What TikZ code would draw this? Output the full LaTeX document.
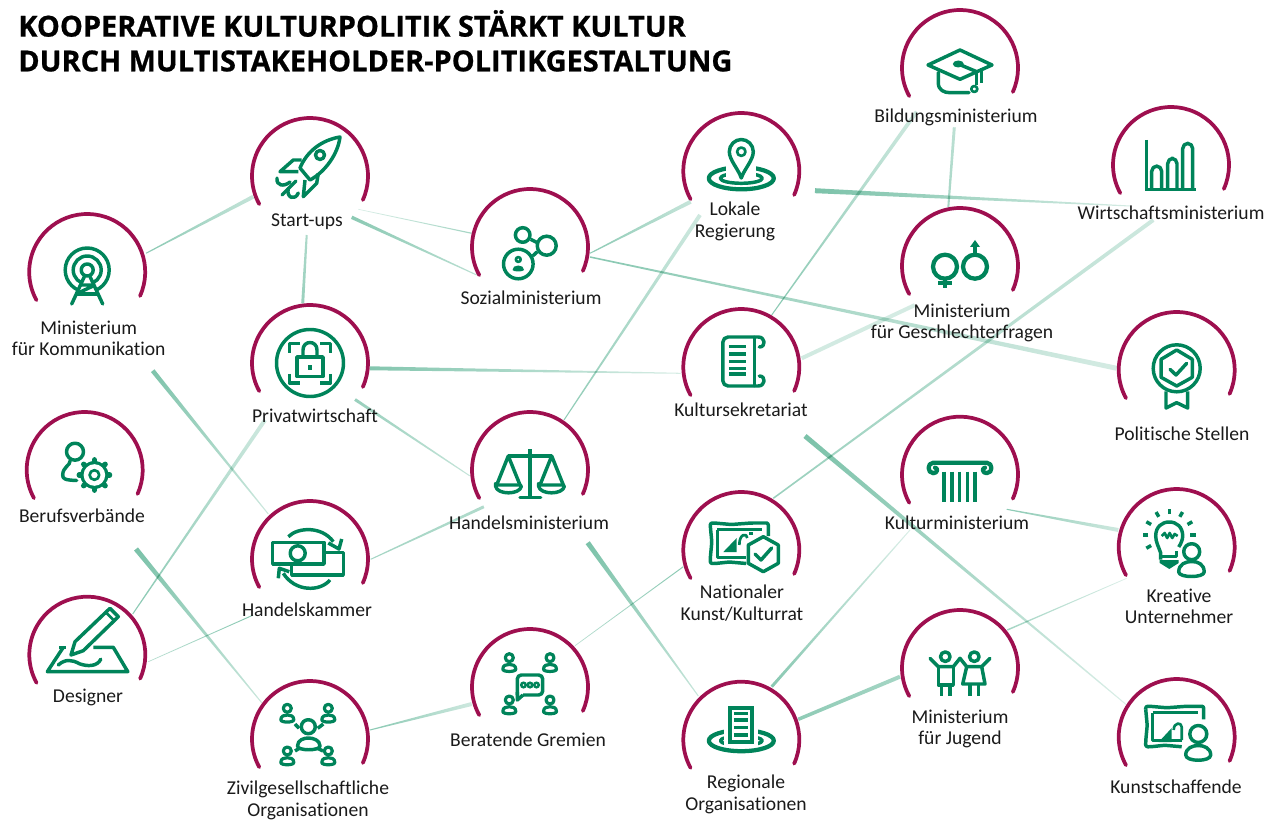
\documentclass[tikz,border=0pt]{standalone}
\usepackage{fontspec}
\usetikzlibrary{calc,shapes.geometric}
\setmainfont[Ligatures=CommonOff]{Carlito}
\newfontfamily\titlef[FakeBold=0.7]{Open Sans Bold}
\definecolor{arcred}{HTML}{9E0F4F}
\definecolor{ig}{HTML}{00845A}
\definecolor{lk}{HTML}{5BB394}
\definecolor{ink}{HTML}{1A1A1A}
\newcommand\labelfont{\fontsize{14.7}{16}\selectfont\color{ink}}
\tikzset{
  x=0.75pt,y=-0.75pt,
  hub/.style={circle,minimum size=87pt,inner sep=0pt},
  arcl/.style={draw=arcred,line width=2.8pt,line cap=round},
  lbl/.style={align=center,font=\labelfont,inner sep=0pt,yshift=-0.2pt},
  ttl/.style={anchor=west,inner sep=0pt,font=\titlef\fontsize{21.7}{22}\selectfont},
  ic/.style={draw=ig,line width=2.6pt,line join=round},
  icb/.style={draw=ig,line width=3.2pt,line join=round},
  ict/.style={draw=ig,line width=2pt,line join=round},
  icp/.style={draw=ig,line width=2.4pt,line join=round},
}
\newcommand\hubnode[6]{%
  \node[hub] (#1) at (#2,#3) {};
  \draw[arcl] (#1) ++(24.4:58) arc[start angle=24.4,end angle=-209,radius=58];
  \node[lbl] (#1-t) at (#5,#6) {#4};
}
\newcommand\taper[6]{%
  \path let \p1=($(#2)-(#1)$), \n1={veclen(\x1,\y1)}, \n2={atan2(\y1,\x1)} in
    \pgfextra{\xdef\tlen{\n1}\xdef\tang{\n2}};
  \pgfmathsetlengthmacro\hwa{#3*0.375pt}
  \pgfmathsetlengthmacro\hwb{#4*0.375pt}
  \begin{scope}[transform canvas={shift={(#1)},rotate=\tang}]
  \shade[left color=lk!#5!white,right color=lk!#6!white,blend mode=multiply]
    (0pt,-\hwa) -- (\tlen,-\hwb) -- (\tlen,\hwb) -- (0pt,\hwa) -- cycle;
  \end{scope}
}
\newcommand\perso[3]{%
  \begin{scope}[shift={(#1,#2)},scale=#3]
  \draw[icp] (0,-5) circle[radius=4];
  \draw[icp,fill=white] (-6.5,6.5) .. controls (-6.5,2.5) and (-3,1.7) .. (0,1.7) .. controls (3,1.7) and (6.5,2.5) .. (6.5,6.5) .. controls (6.5,9.5) and (-6.5,9.5) .. (-6.5,6.5) -- cycle;
  \end{scope}
}
\newcommand\wobbleframe{%
  \draw[ic,rounded corners=1.5] (-31,-24) -- (-31,-27) -- (-27,-27) -- (-10,-25.5) -- (10,-27) -- (24,-27) -- (27,-27) -- (27,-22) -- (27,-14);
  \draw[ic,rounded corners=1.5] (-31,-24) -- (-29.5,-8) -- (-31,8) -- (-31,13.5) -- (-26,13.5) -- (-12,12) -- (5,13.5);
  \draw[ict] (-24,-20.5) -- (21,-20.5);
  \draw[ict] (-24,-20.5) -- (-24,7.5) -- (5,7.5);
}
\begin{document}
\begin{tikzpicture}
\useasboundingbox (0,0) rectangle (1274,823);

% ---------- connector ports ----------
\coordinate (komm-start) at (146,253.3);
\coordinate (start-komm) at (253.3,196.7);
\coordinate (start-soz1) at (358.3,209.3);
\coordinate (soz-start1) at (471.7,233.3);
\coordinate (start-soz2) at (351.7,217.3);
\coordinate (soz-start2) at (476.7,275);
\coordinate (start-priv) at (306.7,235);
\coordinate (priv-start) at (302.7,303.3);
\coordinate (komm-hk) at (152.7,370.7);
\coordinate (hk-komm) at (268.3,514);
\coordinate (priv-sek) at (370,368.3);
\coordinate (sek-priv) at (680.7,373.3);
\coordinate (priv-hm) at (355,399.5);
\coordinate (hm-priv) at (470,476);
\coordinate (soz-lok) at (590,253.3);
\coordinate (lok-soz) at (690.7,201.7);
\coordinate (soz-pol) at (590,257);
\coordinate (pol-soz) at (1116.7,368.3);
\coordinate (lok-hm) at (700,215);
\coordinate (hm-lok) at (564,420);
\coordinate (lok-wir) at (815,190.7);
\coordinate (wir-lok) at (1130,206);
\coordinate (bil-sek) at (916.7,111.7);
\coordinate (sek-bil) at (771.7,315);
\coordinate (bil-ges) at (954.3,127.3);
\coordinate (ges-bil) at (948.3,207.3);
\coordinate (sek-ges) at (801.7,358.3);
\coordinate (ges-sek) at (915,305);
\coordinate (wir-nat) at (1153.3,220);
\coordinate (nat-wir) at (773.3,498.3);
\coordinate (sek-kun) at (805,436);
\coordinate (kun-sek) at (1126.7,705);
\coordinate (hk-hm) at (370.7,559.3);
\coordinate (hm-hk) at (484,506.7);
\coordinate (des-priv) at (132.7,614);
\coordinate (priv-des) at (265,420);
\coordinate (des-hk) at (148.3,661.7);
\coordinate (hk-des) at (253.3,615);
\coordinate (ber-ziv) at (136,549);
\coordinate (ziv-ber) at (261.7,702.7);
\coordinate (ziv-bg) at (370,730);
\coordinate (bg-ziv) at (471.7,704);
\coordinate (bg-nat) at (575,645.7);
\coordinate (nat-bg) at (683.3,566.7);
\coordinate (hm-reg) at (587.7,542.7);
\coordinate (reg-hm) at (698.3,696);
\coordinate (km-kre) at (1006.7,509.3);
\coordinate (kre-km) at (1118.3,530);
\coordinate (km-reg) at (910,530);
\coordinate (reg-km) at (771.7,686.7);
\coordinate (reg-jug) at (798.3,719.3);
\coordinate (jug-reg) at (900,676.7);
\coordinate (jug-kre) at (1007.3,630);
\coordinate (kre-jug) at (1126.7,578.3);

% ---------- connectors ----------
\taper{komm-start}{start-komm}{1}{4}{70}{36}
\taper{start-soz1}{soz-start1}{0.7}{1.2}{22}{55}
\taper{start-soz2}{soz-start2}{3.5}{1}{70}{42}
\taper{start-priv}{priv-start}{2}{3}{50}{62}
\taper{komm-hk}{hk-komm}{4.5}{1}{78}{30}
\taper{priv-sek}{sek-priv}{4}{1}{75}{25}
\taper{priv-hm}{hm-priv}{3}{1}{62}{35}
\taper{soz-lok}{lok-soz}{1}{4}{70}{35}
\taper{soz-pol}{pol-soz}{1.5}{5}{72}{26}
\taper{lok-hm}{hm-lok}{4}{1}{30}{68}
\taper{lok-wir}{wir-lok}{5}{1}{80}{26}
\taper{bil-sek}{sek-bil}{4}{1}{30}{72}
\taper{bil-ges}{ges-bil}{3}{2}{40}{55}
\taper{sek-ges}{ges-sek}{4}{4}{28}{26}
\taper{wir-nat}{nat-wir}{4}{1.5}{30}{62}
\taper{sek-kun}{kun-sek}{5}{1}{80}{22}
\taper{hk-hm}{hm-hk}{1}{3}{55}{48}
\taper{des-priv}{priv-des}{1}{4}{72}{30}
\taper{des-hk}{hk-des}{0.7}{1}{42}{72}
\taper{ber-ziv}{ziv-ber}{5}{1}{80}{32}
\taper{ziv-bg}{bg-ziv}{1}{4}{72}{30}
\taper{bg-nat}{nat-bg}{0.7}{1}{42}{72}
\taper{hm-reg}{reg-hm}{5}{1}{80}{34}
\taper{km-kre}{kre-km}{1}{4}{70}{30}
\taper{km-reg}{reg-km}{1}{3}{22}{72}
\taper{reg-jug}{jug-reg}{3.5}{4}{68}{55}
\taper{jug-kre}{kre-jug}{1.5}{0.7}{55}{22}

% ---------- hubs ----------
\hubnode{komm}{87.2}{272}{Ministerium\\für Kommunikation}{88.7}{338}
\hubnode{start}{310}{176}{Start-ups}{307}{221}
\hubnode{priv}{310}{363}{Privatwirtschaft}{315}{416}
\hubnode{soz}{530}{247}{Sozialministerium}{531}{298}
\hubnode{lok}{741.3}{171}{Lokale\\Regierung}{735}{221}
\hubnode{sek}{741.3}{367}{Kultursekretariat}{741}{410}
\hubnode{bil}{960}{68}{Bildungsministerium}{956}{117}
\hubnode{wir}{1171}{165}{Wirtschaftsministerium}{1171}{213}
\hubnode{ges}{960}{266}{Ministerium\\für Geschlechterfragen}{962}{323}
\hubnode{ber}{84.7}{470}{Berufsverbände}{82}{515}
\hubnode{hk}{310}{559}{Handelskammer}{307}{609}
\hubnode{des}{87.3}{654.7}{Designer}{88}{697}
\hubnode{hm}{530}{470}{Handelsministerium}{529}{522}
\hubnode{nat}{741.3}{550}{Nationaler\\Kunst/Kulturrat}{742}{603}
\hubnode{reg}{741.3}{739.7}{Regionale\\Organisationen}{746}{794}
\hubnode{bg}{530}{687}{Beratende Gremien}{528}{739}
\hubnode{ziv}{310}{739}{Zivilgesellschaftliche\\Organisationen}{308}{800}
\hubnode{pol}{1176.7}{370}{Politische Stellen}{1182}{434}
\hubnode{km}{960}{474.7}{Kulturministerium}{957}{522}
\hubnode{kre}{1176.7}{547}{Kreative\\Unternehmer}{1179}{606}
\hubnode{jug}{960}{668}{Ministerium\\für Jugend}{960}{729}
\hubnode{kun}{1176.7}{737}{Kunstschaffende}{1176}{786}

% ---------- title ----------
\node[ttl] (title1) at (18,23.5) {KOOPERATIVE KULTURPOLITIK STÄRKT KULTUR};
\node[ttl] (title2) at (18,61) {DURCH MULTISTAKEHOLDER-POLITIKGESTALTUNG};

% ---------- icons ----------
% rocket
\begin{scope}[shift={(start)}]
 \draw[ic] (-10,-8) .. controls (-3,-25) and (12,-36) .. (30,-39) .. controls (28,-22) and (15,-4) .. (0,4) -- cycle;
 \draw[ic] (10,-21) circle[radius=4.5];
 \draw[ic] (-8.3,-16) -- (-16.7,-16) -- (-30,-4.3) -- (-11.7,-4.3);
 \draw[ic] (8.3,-2.7) -- (6.7,7.3) -- (-6.7,20.7) -- (-5,4);
 \draw[ic,line cap=round] (-33,2) .. controls (-34,10) and (-26,11) .. (-20,6);
 \draw[ic,line cap=round] (-28,19) -- (-14,5);
 \draw[ic,line cap=round] (-21.7,12.3) .. controls (-24,22) and (-15,25) .. (-11.7,17);
\end{scope}
% antenna
\begin{scope}[shift={(komm)}]
 \draw[ic] (0,-2) circle[radius=22];
 \draw[ic] (0,-2) circle[radius=14];
 \fill[white] (0,0) -- (-17,32) -- (17,32) -- cycle;
 \draw[ic] (0,-2) circle[radius=6];
 \draw[ic,line cap=round] (-15.5,32) -- (-3,5) (15.5,32) -- (3,5);
 \draw[ic] (-9,21) -- (8,13) (-6,13) -- (8,13);
 \draw[ic] (-11,22) -- (11,22);
\end{scope}
% lock
\begin{scope}[shift={(priv)}]
 \draw[ic] (0,0) circle[radius=33.5];
 \draw[ic] (-13,-6) rectangle (13,13.5);
 \draw[ic] (-7,-6) -- (-7,-13) .. controls (-7,-23) and (7,-23) .. (7,-13) -- (7,-6);
 \fill[ig] (-2,2.5) rectangle (2,7.5);
 \draw[ic] (-10,-19.5) -- (-20.5,-19.5) -- (-20.5,-10);
 \draw[ic] (10,-19.5) -- (20.5,-19.5) -- (20.5,-10);
 \draw[ic] (-20.5,11) -- (-20.5,20) -- (-10,20);
 \draw[ic] (20.5,11) -- (20.5,20) -- (10,20);
\end{scope}
% social
\begin{scope}[shift={(soz)}]
 \draw[ic] (-7.3,-12) circle[radius=7.3];
 \draw[ic] (16.7,-1.3) circle[radius=9.5];
 \draw[ic] (-11.7,17) circle[radius=14.8];
 \draw[ict] (-11.7,12.5) circle[radius=2.4];
 \fill[ig] (-17.5,23) .. controls (-18,17) and (-5.5,17) .. (-6,23) .. controls (-7,25) and (-16.5,25) .. (-17.5,23) -- cycle;
 \draw[ic] (0.7,-7.7) -- (6.7,-4.7);
 \draw[ic] (2.7,9) -- (7.3,4.7);
\end{scope}
% pin with rings
\begin{scope}[shift={(lok)}]
 \draw[icb] (0,7.3) ellipse[x radius=32.5,y radius=11];
 \draw[ic] (0,7.3) ellipse[x radius=21,y radius=5];
 \fill[white] (-15,7) rectangle (15,-6);
 \draw[ic,fill=white] (0,7) .. controls (-3,-2) and (-12,-11) .. (-12,-19.3) .. controls (-12,-26) and (-6.5,-31.5) .. (0,-31.5) .. controls (6.5,-31.5) and (12,-26) .. (12,-19.3) .. controls (12,-11) and (3,-2) .. (0,7) -- cycle;
 \draw[ict] (0,-19.3) circle[radius=4.2];
\end{scope}
% scroll
\begin{scope}[shift={(sek)}]
 \draw[ic,rounded corners=4] (13,-30) -- (-18.5,-30) -- (-18.5,19) -- (13,19);
 \draw[ic] (13,-30) -- (13,19);
 \draw[ic,line cap=round] (13,-30) -- (17,-30) .. controls (24,-30) and (25,-20) .. (18,-20);
 \draw[ic,line cap=round] (13,19) -- (17,19) .. controls (24,19) and (25,9) .. (18,9);
 \foreach \yy in {-20.3,-13,-5.3,1.3,7}{\draw[ig,line width=2.6pt] (-12.5,\yy) -- (4.7,\yy);}
\end{scope}
% graduation cap
\begin{scope}[shift={(bil)}]
 \draw[ic] (0,-18) -- (32,-3) -- (0,11.3) -- (-32,-3) -- cycle;
 \draw[ic,line cap=round] (-21.7,4.5) -- (-21.7,15) .. controls (-21.7,22) and (-16,24.7) .. (-10,24.7) -- (9,24.7);
 \draw[ic] (16.7,3.7) -- (-1.7,-4);
 \fill[ig] (-1.7,-4) ellipse[x radius=5.5,y radius=3.5];
 \draw[ic] (16.7,3.7) -- (16.7,17);
 \draw[ict] (14.3,21) circle[radius=3];
 \draw[ic] (21.7,0) -- (21.7,15.5);
\end{scope}
% chart
\begin{scope}[shift={(wir)}]
 \draw[ic] (-24.3,-25) -- (-24.3,24.3);
 \draw[ic] (-26,24.3) -- (24.7,24.3);
 \draw[ic,rounded corners=4] (-19.3,24.3) -- (-19.3,1) -- (-9.3,1) -- (-9.3,24.3);
 \draw[ic,rounded corners=4] (-3.3,24.3) -- (-3.3,-6.7) -- (6,-6.7) -- (6,24.3);
 \draw[ic,rounded corners=4] (11.7,24.3) -- (11.7,-21.7) -- (21.7,-21.7) -- (21.7,24.3);
\end{scope}
% gender
\begin{scope}[shift={(ges)}]
 \draw[icb] (-15,0.7) circle[radius=12];
 \draw[icb] (15,0.7) circle[radius=12];
 \draw[icb] (-15,13) -- (-15,22);
 \draw[icb] (-21.7,17.3) -- (-8.3,17.3);
 \draw[icb] (15,-11) -- (15,-20);
 \fill[ig] (10,-19) -- (20,-19) -- (15,-26) -- cycle;
\end{scope}
% person + gear
\begin{scope}[shift={(ber)}]
 \draw[ic] (-9.7,-18.3) circle[radius=8.5];
 \draw[ic,line cap=round] (-14.7,-9) .. controls (-14,-5) and (-22,-3) .. (-22,5) .. controls (-22,9) and (-20,10) .. (-8,10.5);
 \begin{scope}[shift={(9.7,5)}]
 \foreach \a in {0,45,...,315}{\draw[ig,line width=4pt,line cap=round] (\a:12) -- (\a:15.2);}
 \fill[ig] (0,0) circle[radius=14];
 \fill[white] (0,0) circle[radius=10.8];
 \draw[ict] (0,0) circle[radius=4.8];
 \end{scope}
\end{scope}
% money exchange
\begin{scope}[shift={(hk)}]
 \draw[ic] (-37.3,-16.7) rectangle (14,5);
 \draw[ic] (-12.3,-5.7) circle[radius=7.5];
 \draw[ic] (15,-6.3) -- (33.3,-6.3) -- (33.3,16) -- (-18.3,16) -- (-18.3,6);
 \draw[ic] (-21.7,-22.3) .. controls (-12,-32) and (12,-33) .. (23.3,-17.3);
 \draw[ic] (18.3,-16) -- (29,-10) -- (31.7,-20);
 \draw[ic] (20,21) .. controls (10,33) and (-15,33) .. (-26.7,14.3);
 \draw[ic] (-31.7,19.3) -- (-30.7,9.3) -- (-20.7,12.7);
\end{scope}
% designer
\begin{scope}[shift={(des)}]
 \draw[ic] (-24,-7.4) -- (-40,17) -- (40.5,17) -- (26,-7.4) -- (6,-7.4);
 \draw[ic] (-28,-7.4) -- (-21,-7.4);
 \draw[ic,fill=white] (-12.3,-13) -- (22.7,-46.4) -- (31,-38) -- (-4,-4) -- (-16.3,0.3) -- cycle;
 \draw[ict] (18.5,-42.5) -- (27,-34);
 \draw[ic,line cap=round] (-29,10.3) .. controls (-22,4) and (-15,5) .. (-8,9) .. controls (0,12) and (10,12) .. (13.5,4.5);
\end{scope}
% scales
\begin{scope}[shift={(hm)}]
 \draw[ic] (0,-21) -- (0,27.5);
 \draw[ic,line cap=round] (-10,27.5) -- (10.7,27.5);
 \draw[ic] (-21.7,-14) -- (21.7,-14);
 \draw[ic] (-33.3,15) -- (-21.7,-14) -- (-10,15);
 \draw[ic] (10,15) -- (21.7,-14) -- (33.3,15);
 \draw[ic,rounded corners=1] (-34.5,15) -- (-8.5,15) .. controls (-10,25) and (-33,25) .. (-34.5,15) -- cycle;
 \draw[ic,rounded corners=1] (8.5,15) -- (34.5,15) .. controls (33,25) and (10,25) .. (8.5,15) -- cycle;
\end{scope}
% frame + shield
\begin{scope}[shift={(nat)}]
 \wobbleframe
 \fill[ig] (-18,2) -- (-4.6,-12) -- (-4.6,2) -- cycle;
 \draw[ict] (-2,-5) .. controls (-2,-17) and (6,-17) .. (6,-12);
 \fill[ig] (8,-18) rectangle (12,-15);
 \draw[ic,fill=white] (22,-13.3) -- (37,-5) -- (37,13.3) -- (22,21.7) -- (7,13.3) -- (7,-5) -- cycle;
 \draw[ic,line cap=round] (13.7,4) -- (19.7,10) -- (30.4,-2);
\end{scope}
% regional
\begin{scope}[shift={(reg)}]
 \draw[icb] (0,1) ellipse[x radius=32.5,y radius=10.5];
 \draw[ic] (0,1) ellipse[x radius=21,y radius=4.5];
 \fill[white] (-17,-12) rectangle (17,7);
 \fill[ig] (-13,-33.7) rectangle (12.7,4.3);
 \fill[white] (-9,-29.7) rectangle (8.7,0.3);
 \foreach \yy in {-26.3,-19.7,-12.3,-4.7}{\draw[ig,line width=2.6pt] (-7.5,\yy) -- (7,\yy);}
\end{scope}
% advisory
\begin{scope}[shift={(bg)}]
 \perso{-20.7}{-24.3}{1}
 \perso{20}{-24.3}{1}
 \perso{-20.7}{18}{1}
 \perso{20}{18}{1}
 \draw[ic,fill=white,rounded corners=3] (-12.7,8) -- (-12.7,-12) -- (12.7,-12) -- (12.7,8) -- (-7,8);
 \draw[ic] (-7,8) -- (-12.7,13) -- (-12.7,5);
 \foreach \xx in {-6.5,0,6.5}{\fill[ig] (\xx,-2) circle[radius=3.6];}
 \foreach \xx in {-6.5,0,6.5}{\fill[white] (\xx,-2) circle[radius=0.9];}
\end{scope}
% civil society
\begin{scope}[shift={(ziv)}]
 \draw[ic] (-1.7,-12.3) circle[radius=7];
 \draw[ic,fill=white] (-12.5,7) .. controls (-12.5,1) and (-6,-1) .. (-1.7,-1) .. controls (3,-1) and (10,1) .. (10,7) .. controls (10,12) and (-12.5,12) .. (-12.5,7) -- cycle;
 \perso{-22.7}{-25.7}{1}
 \perso{18.3}{-25.7}{1}
 \perso{-22.7}{17}{1}
 \perso{18.3}{17}{1}
 \draw[ic] (-15,-15) -- (-11,-10.7);
 \draw[ic] (13.3,-15) -- (7.7,-10.7);
 \draw[ic] (-15,12) -- (-11,9.5);
 \draw[ic] (13,12) -- (8,9.5);
\end{scope}
% rosette
\begin{scope}[shift={(pol)}]
 \draw[ic] (0,-1.7) circle[radius=23.5];
 \draw[ic] (0,-20) -- (15.6,-10.7) -- (15.6,7.3) -- (0,16) -- (-15.6,7.3) -- (-15.6,-10.7) -- cycle;
 \draw[ic,line cap=round] (-6.7,-0.7) -- (-0.7,5) -- (10,-6.7);
 \draw[ic] (-10.7,21.5) -- (-10.7,38) -- (0,32.7) -- (11,38) -- (11,21.5);
\end{scope}
% column
\begin{scope}[shift={(km)}]
 \draw[icb,line cap=round] (-26.7,-1.5) .. controls (-33,-1.5) and (-33,-12) .. (-26.7,-12) -- (26.7,-12) .. controls (33,-12) and (33,-1.5) .. (26.7,-1.5) .. controls (22,-1.5) and (22,-7) .. (25,-7);
 \draw[icb,line cap=round] (-26.7,-1.5) .. controls (-22,-1.5) and (-22,-7) .. (-25,-7);
 \foreach \xx in {-16,-8.3,-0.7,7.3,15}{\draw[ig,line width=2.7pt] (\xx,-3) -- (\xx,27.3);}
\end{scope}
% bulb + person
\begin{scope}[shift={(kre)}]
 \draw[ic] (-16,12.5) -- (-16,6) .. controls (-18,0) and (-21,-5) .. (-21,-11) .. controls (-21,-20) and (-15,-25) .. (-7.4,-25) .. controls (0,-25) and (6,-20) .. (6,-11) .. controls (6,-7) and (4,-3) .. (2,0);
 \draw[ic] (-15,9.7) -- (0,9.7) -- (0,4);
 \fill[ig] (-17,13) -- (2,13) -- (2,16) -- (-7.4,22) -- (-17,16) -- cycle;
 \draw[ict] (-15,-11) -- (-12,-14) -- (-9.5,-9) -- (-7,-14) -- (-4.5,-9) -- (-2,-13) -- (1,-11);
 \foreach \a in {0,-30,-60,-90,-120,-150,180,150}{\draw[ic] ($(-7.4,-12)+(\a:21)$) -- ($(-7.4,-12)+(\a:26.5)$);}
 \draw[ic,fill=white] (15,4.7) circle[radius=8];
 \draw[ic,fill=white] (2,25) .. controls (2,17) and (9,14.5) .. (15,14.5) .. controls (21,14.5) and (27.5,17) .. (27.5,25) .. controls (27.5,31) and (2,31) .. (2,25) -- cycle;
\end{scope}
% children
\begin{scope}[shift={(jug)}]
 \draw[ic] (-14.7,-11.3) circle[radius=4.8];
 \draw[ic] (14.3,-11.3) circle[radius=4.8];
 \draw[ic,line cap=round] (-30,-9.7) -- (-21.7,-1.3) -- (-6.7,-1.3) -- (0,-9.7) -- (6.7,-1.3) -- (21.7,-1.3) -- (30,-9.7);
 \draw[ic] (-21.7,-1.3) -- (-21.7,17) -- (-6.7,17) -- (-6.7,-1.3);
 \draw[ic] (-18.3,17) -- (-18.3,28) (-10,17) -- (-10,28);
 \draw[ic] (6.7,-1.3) -- (2.7,16) -- (25,16) -- (21.7,-1.3);
 \draw[ic] (10,16) -- (10,28) (18.3,16) -- (18.3,28);
\end{scope}
% frame + person
\begin{scope}[shift={(kun)}]
 \begin{scope}[yshift=2.8pt]
 \wobbleframe
 \end{scope}
 \fill[ig] (-18,5) -- (-5,-9) -- (-5,5) -- cycle;
 \draw[ict] (-3,-7) .. controls (-3,-15) and (5,-15) .. (5,-10) -- (5,3);
 \fill[white] (9,-14) rectangle (36,26);
 \draw[ic] (21.6,-3) circle[radius=8.5];
 \draw[ic,fill=white] (9,18) .. controls (9,11) and (16,8.5) .. (21.6,8.5) .. controls (27,8.5) and (34,11) .. (34,18) .. controls (34,25) and (9,25) .. (9,18) -- cycle;
\end{scope}
\end{tikzpicture}
\end{document}
